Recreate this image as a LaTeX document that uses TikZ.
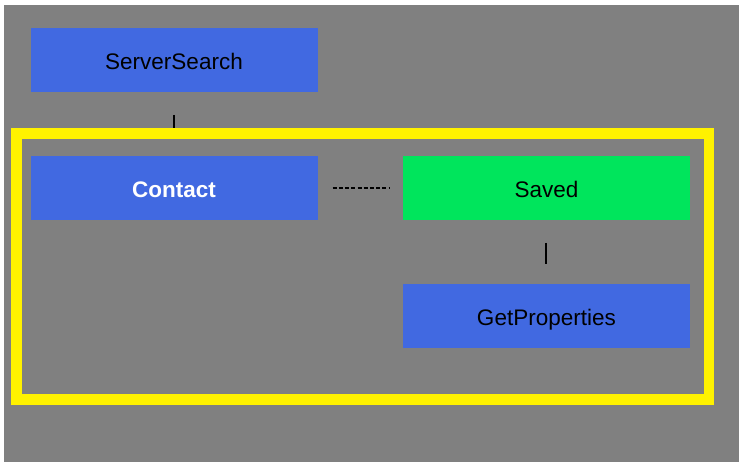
\documentclass[tikz,border=0pt]{standalone}
\usepackage{fontspec}
\setmainfont{Liberation Sans}
\usepackage{xcolor}
\usepackage{tikz}
\usetikzlibrary{positioning}

\definecolor{boxblue}{RGB}{65,105,225}
\definecolor{savedgreen}{RGB}{0,229,92}
\definecolor{backgray}{RGB}{128,128,128}

\begin{document}
\begin{tikzpicture}[
        x=1pt, y=1pt,
        font=\fontsize{22.5}{26}\selectfont,
        box/.style     ={minimum width=287pt, minimum height=63.5pt,
                         inner sep=0pt, align=center,
                         text height=19pt, text depth=0pt},
        blubox/.style  ={box, fill=boxblue},
        grnbox/.style  ={box, fill=savedgreen},
        tick/.style    ={draw=black, line width=2pt},
        dotted link/.style={draw=black, line width=2pt,
                         dash pattern=on 4pt off 2.2pt},
        frame/.style   ={draw=yellow, line width=10.5pt}
    ]
      % ===== BACKGROUND =====
      \useasboundingbox (0,0) rectangle (742,-463);
      \fill[white] (0,0) rectangle (742,-463);
      \fill[backgray] (4,-5) rectangle (739,-461.5);

      % ===== NODES =====
      \node[blubox]                      (server)  at (174,-60) {ServerSearch};
      \node[blubox, below=64pt of server] (contact) {\textcolor{white}{\bfseries Contact}};
      \node[grnbox, right=85pt of contact] (saved)  {Saved};
      \node[blubox, below=64pt of saved]  (getprop) {GetProperties};

      % ===== LINKS =====
      \draw[tick, shorten <=23pt, shorten >=23pt] (server.south) -- (contact.north);
      \draw[dotted link, shorten <=15pt, shorten >=13pt] (contact.east) -- (saved.west);
      \draw[tick, shorten <=23pt, shorten >=20pt] (saved.south) -- (getprop.north);

      % yellow group frame
      \draw[frame] (16.5,-133.5) rectangle (709,-399.5);
    \end{tikzpicture}
\end{document}
